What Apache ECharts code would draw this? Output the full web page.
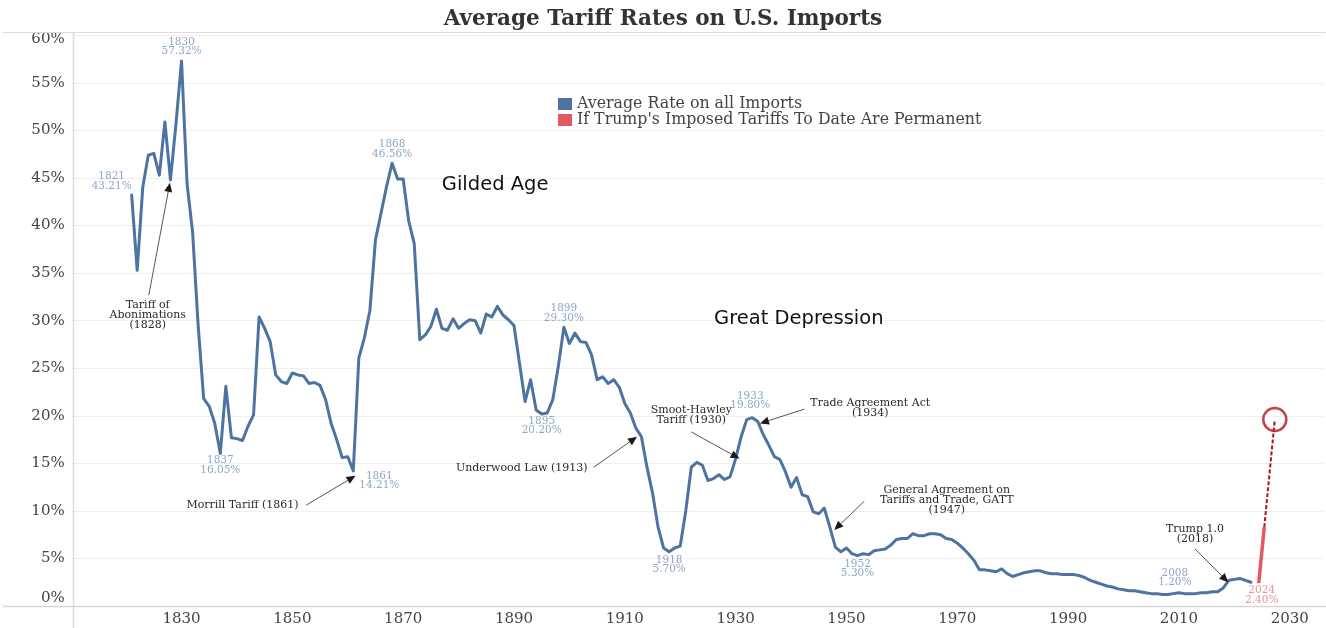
<!DOCTYPE html>
<html><head><meta charset="utf-8">
<script src="https://cdn.jsdelivr.net/npm/echarts@6/dist/echarts.min.js"></script>
<style>html,body{margin:0;padding:0;background:#fff}#c{width:1326px;height:628px}</style>
</head><body><div id="c"></div>
<script>
// ---------- DATA ----------
const years = [
  1821,1822,1823,1824,1825,1826,1827,1828,1829,1830,
  1831,1832,1833,1834,1835,1836,1837,1838,1839,1840,
  1841,1842,1843,1844,1845,1846,1847,1848,1849,1850,
  1851,1852,1853,1854,1855,1856,1857,1858,1859,1860,
  1861,1862,1863,1864,1865,1866,1867,1868,1869,1870,
  1871,1872,1873,1874,1875,1876,1877,1878,1879,1880,
  1881,1882,1883,1884,1885,1886,1887,1888,1889,1890,
  1891,1892,1893,1894,1895,1896,1897,1898,1899,1900,
  1901,1902,1903,1904,1905,1906,1907,1908,1909,1910,
  1911,1912,1913,1914,1915,1916,1917,1918,1919,1920,
  1921,1922,1923,1924,1925,1926,1927,1928,1929,1930,
  1931,1932,1933,1934,1935,1936,1937,1938,1939,1940,
  1941,1942,1943,1944,1945,1946,1947,1948,1949,1950,
  1951,1952,1953,1954,1955,1956,1957,1958,1959,1960,
  1961,1962,1963,1964,1965,1966,1967,1968,1969,1970,
  1971,1972,1973,1974,1975,1976,1977,1978,1979,1980,
  1981,1982,1983,1984,1985,1986,1987,1988,1989,1990,
  1991,1992,1993,1994,1995,1996,1997,1998,1999,2000,
  2001,2002,2003,2004,2005,2006,2007,2008,2009,2010,
  2011,2012,2013,2014,2015,2016,2017,2018,2019,2020,
  2021,2022,2023
];
const rates = [
  43.21,35.3,44.0,47.4,47.6,45.3,50.9,44.8,50.7,57.32,
  44.4,39.3,29.5,21.8,21.0,19.2,16.05,23.1,17.7,17.6,
  17.4,18.9,20.1,30.4,29.2,27.8,24.3,23.6,23.4,24.5,
  24.3,24.2,23.4,23.5,23.2,21.7,19.2,17.5,15.6,15.7,
  14.21,26.1,28.2,31.1,38.5,41.3,44.1,46.56,44.9,44.9,
  40.5,38.1,28.0,28.5,29.4,31.2,29.2,29.0,30.2,29.2,
  29.7,30.1,30.0,28.7,30.7,30.4,31.5,30.6,30.1,29.5,
  25.5,21.5,23.8,20.6,20.20,20.3,21.7,25.2,29.30,27.6,
  28.7,27.8,27.7,26.4,23.8,24.1,23.4,23.8,23.0,21.3,
  20.3,18.7,17.8,14.6,11.9,8.3,6.1,5.70,6.1,6.3,
  10.0,14.6,15.1,14.8,13.2,13.4,13.8,13.3,13.6,15.5,
  17.8,19.6,19.80,19.4,18.0,16.9,15.7,15.4,14.1,12.5,
  13.5,11.7,11.5,9.9,9.7,10.3,8.3,6.2,5.7,6.1,
  5.5,5.30,5.5,5.4,5.8,5.9,6.0,6.4,7.0,7.1,
  7.1,7.6,7.4,7.4,7.6,7.6,7.5,7.1,7.0,6.6,
  6.1,5.5,4.8,3.8,3.8,3.7,3.6,3.9,3.4,3.1,
  3.3,3.5,3.6,3.7,3.7,3.5,3.4,3.4,3.3,3.3,
  3.3,3.2,3.0,2.7,2.5,2.3,2.1,2.0,1.8,1.7,
  1.6,1.6,1.5,1.4,1.3,1.3,1.2,1.20,1.3,1.4,
  1.3,1.3,1.3,1.4,1.4,1.5,1.5,1.9,2.7,2.8,
  2.9,2.7,2.5
];
// red "if permanent" segment (solid) and projection (dashed)
const trumpYears = [2024.4, 2025.4];
const trumpRates = [2.40, 8.3];
const projYears = [2025.4, 2027.3];
const projRates = [8.3, 19.6];
const circleYear = [2027.3];
const circleRate = [19.6];

const labelYears = [1821,1830,1837,1861,1868,1895,1899,1918,1933,1952,2008];
const yTicks = [0,5,10,15,20,25,30,35,40,45,50,55,60];
const xTickLabels = [1830,1850,1870,1890,1910,1930,1950,1970,1990,2010,2030];

const seriesNames = ['Average Rate on all Imports', "If Trump's Imposed Tariffs To Date Are Permanent"];

// ---------- STYLE / PLACEMENT ----------
const labelOffsets = {
  1821:[-20,-14],1830:[0,-14],1837:[0,12],1861:[26,10],1868:[0,-14],
  1895:[0,12],1899:[0,-14],1918:[0,13],1933:[-2,-17],1952:[0,13],2008:[7,-17]
};
const annotations = [
  {text:'Tariff of\nAbonimations\n(1828)', at:[1823.9,30.6], from:[1824.1,32.7], to:[1827.9,44.5]},
  {text:'Morrill Tariff (1861)', at:[1841.0,10.6], from:[1852.5,10.6], to:[1861.4,13.7]},
  {text:'Underwood Law (1913)', at:[1891.4,14.5], from:[1904.4,14.6], to:[1912.2,17.8]},
  {text:'Smoot-Hawley\nTariff (1930)', at:[1922.0,20.1], from:[1922.0,18.3], to:[1930.7,15.5]},
  {text:'Trade Agreement Act\n(1934)', at:[1954.3,20.8], from:[1942.4,20.7], to:[1934.4,19.2]},
  {text:'General Agreement on\nTariffs and Trade, GATT\n(1947)', at:[1968.1,11.1], from:[1953.2,11.0], to:[1947.8,8.0]},
  {text:'Trump 1.0\n(2018)', at:[2012.9,7.6], from:[2012.9,6.0], to:[2018.9,2.5]}
];
const periods = [
  {text:'Gilded Age', at:[1886.6,44.3]},
  {text:'Great Depression', at:[1941.4,30.2]}
];

const SERIF = '"DejaVu Serif", Georgia, serif';
const BLUE = '#4d74a1', RED = '#e15a5f', DARKRED = '#a8161c';
const LBLUE = '#6f90b9', LRED = '#df7b7f';
const axisFont = {fontFamily:SERIF, fontSize:15, color:'#444'};

// ---------- BUILD ----------
const blueData = years.map((y,i)=>[y, rates[i]]);
const redData = trumpYears.map((y,i)=>[y, trumpRates[i]]);
const projData = projYears.map((y,i)=>[y, projRates[i]]);
const circleData = circleYear.map((y,i)=>[y, circleRate[i]]);

const labelItems = labelYears.map(y=>{
  const v = rates[years.indexOf(y)];
  return {name:String(y), value:[y,v], label:{position:labelOffsets[y], color:LBLUE}};
});
labelItems.push({name:String(Math.floor(trumpYears[0])), value:[trumpYears[0], trumpRates[0]],
  label:{position:[3,12], color:LRED}});

const chart = echarts.init(document.getElementById('c'), null, {renderer:'canvas'});
chart.setOption({
  animation:false,
  backgroundColor:'#fff',
  title:{text:'Average Tariff Rates on U.S. Imports', left:'center', top:3,
    textStyle:{fontFamily:SERIF, fontWeight:'bold', fontSize:21.5, color:'#333'}},
  legend:{data:seriesNames, orient:'vertical', left:553, top:91, icon:'rect',
    itemWidth:14, itemHeight:12, itemGap:0,
    textStyle:{fontFamily:SERIF, fontSize:15.8, lineHeight:15, color:'#444'}},
  grid:{left:70.7, right:0, top:35.4, bottom:22, containLabel:false},
  xAxis:{type:'value', min:1810, max:2036, interval:20,
    axisLine:{show:false}, axisTick:{show:false}, splitLine:{show:false},
    axisLabel:Object.assign({margin:6,
      formatter:v=> xTickLabels.indexOf(v)>=0 ? String(v) : ''}, axisFont)},
  yAxis:{type:'value', min:yTicks[0], max:yTicks[yTicks.length-1], interval:5,
    axisLine:{show:false}, axisTick:{show:false},
    splitLine:{lineStyle:{color:'#efefef', width:1}},
    axisLabel:Object.assign({margin:6,
      formatter:v=> v===yTicks[yTicks.length-1] ? '{t|'+v+'%}' : (v===0 ? '{b|'+v+'%}' : v+'%'),
      rich:{t:Object.assign({padding:[7,0,0,0]}, axisFont), b:Object.assign({padding:[0,0,16,0]}, axisFont)}
    }, axisFont)},
  series:[
    {name:seriesNames[0], type:'line', data:blueData, showSymbol:false, symbol:'none',
      lineStyle:{color:BLUE, width:3, join:'round', cap:'round'}, itemStyle:{color:BLUE}, z:3},
    {name:seriesNames[1], type:'line', data:redData, showSymbol:false, symbol:'none',
      lineStyle:{color:RED, width:3.5}, itemStyle:{color:RED}, z:3},
    {name:'projection', type:'line', data:projData, showSymbol:false, symbol:'none',
      lineStyle:{color:DARKRED, width:2, type:[4,2]}, z:3},
    {name:'target', type:'scatter', data:circleData, symbol:'circle', symbolSize:23,
      itemStyle:{color:'rgba(0,0,0,0)', borderColor:'#b3161c', borderWidth:2.5}, z:4},
    {name:'labels', type:'scatter', data:labelItems, symbolSize:0, silent:true, z:5,
      label:{show:true, align:'center', verticalAlign:'middle', fontFamily:SERIF,
        fontSize:10.5, lineHeight:9.5,
        formatter:p=> p.name + '\n' + p.value[1].toFixed(2) + '%'}}
  ]
});

// ---------- annotations via the chart's own scales ----------
const toPx = pt => chart.convertToPixel({gridIndex:0}, pt);
const g = [];
g.push({type:'line', shape:{x1:3,y1:32.5,x2:1326,y2:32.5}, style:{stroke:'#dcdcdc', lineWidth:1}, z:1});
const zeroY = Math.round(toPx([1810,0])[1]) + 0.5;
g.push({type:'line', shape:{x1:3,y1:zeroY,x2:1326,y2:zeroY}, style:{stroke:'#d6d6d6', lineWidth:1.5}, z:1});
g.push({type:'line', shape:{x1:73.5,y1:32,x2:73.5,y2:628}, style:{stroke:'#dcdcdc', lineWidth:1.5}, z:1});

annotations.forEach(a=>{
  const t = toPx(a.at), f = toPx(a.from), e = toPx(a.to);
  g.push({type:'text', x:t[0], y:t[1], z:10,
    style:{text:a.text, fill:'#2a2a2a', fontFamily:SERIF, fontSize:11, lineHeight:10,
      align:'center', verticalAlign:'middle'}});
  const ang = Math.atan2(e[1]-f[1], e[0]-f[0]);
  const L = 9, W = 4;
  const bx = e[0]-L*Math.cos(ang), by = e[1]-L*Math.sin(ang);
  g.push({type:'line', shape:{x1:f[0],y1:f[1],x2:bx,y2:by}, style:{stroke:'#555', lineWidth:1}, z:10});
  g.push({type:'polygon', z:10, shape:{points:[
    [e[0],e[1]],
    [bx + W*Math.sin(ang), by - W*Math.cos(ang)],
    [bx - W*Math.sin(ang), by + W*Math.cos(ang)]]}, style:{fill:'#1a1a1a'}});
});
periods.forEach(p=>{
  const t = toPx(p.at);
  g.push({type:'text', x:t[0], y:t[1], z:10,
    style:{text:p.text, fill:'#111', fontFamily:'"DejaVu Sans", Arial, sans-serif', fontSize:19.5,
      align:'center', verticalAlign:'middle'}});
});
chart.setOption({graphic:g});
</script></body></html>
